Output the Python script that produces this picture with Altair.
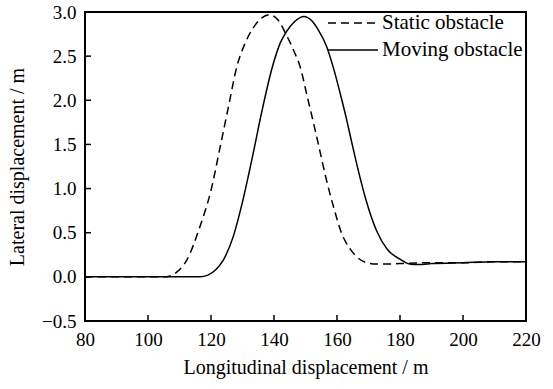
import altair as alt
import pandas as pd

# Trajectory data: longitudinal (m) vs lateral (m) displacement
static_x = [80, 105, 107, 109, 112.3, 116.5, 120, 122.9, 125.5, 128.2, 131, 133.4,
            136, 138.5, 141.5, 143.5, 146.3, 148.3, 150.5, 152.5, 154.1, 156.5, 159,
            161.5, 164.1, 166.5, 169.4, 172.5, 176, 180, 190, 200, 210, 220]
static_y = [0, 0, 0.01, 0.05, 0.19, 0.57, 0.98, 1.47, 1.92, 2.38, 2.66, 2.82,
            2.93, 2.97, 2.90, 2.77, 2.56, 2.38, 2.05, 1.75, 1.50, 1.12, 0.78,
            0.49, 0.32, 0.22, 0.16, 0.145, 0.145, 0.15, 0.16, 0.16, 0.17, 0.17]

moving_x = [80, 116.5, 119, 121.5, 123.9, 127, 130, 133.4, 136, 139.5, 142, 144,
            146.5, 149.5, 152, 154, 156.7, 159, 161, 163, 164.7, 167, 169.3, 172.6,
            176, 180, 182.5, 184.5, 187, 190, 200, 210, 220]
moving_y = [0, 0, 0.02, 0.08, 0.19, 0.45, 0.85, 1.40, 1.85, 2.38, 2.65, 2.78,
            2.89, 2.95, 2.90, 2.80, 2.61, 2.35, 2.08, 1.79, 1.52, 1.17, 0.86, 0.52,
            0.31, 0.20, 0.15, 0.14, 0.14, 0.15, 0.16, 0.17, 0.17]

x_ticks = [80, 100, 120, 140, 160, 180, 200, 220]
y_ticks = [-0.5, 0.0, 0.5, 1.0, 1.5, 2.0, 2.5, 3.0]
x_inner_ticks = [100, 120, 140, 160, 180, 200]
y_inner_ticks = [0.0, 0.5, 1.0, 1.5, 2.0, 2.5]

legend_labels = ["Static obstacle", "Moving obstacle"]

W, H = 441, 309
FONT = "Liberation Serif, Times New Roman, serif"

static_df = pd.DataFrame({"x": static_x, "y": static_y})
moving_df = pd.DataFrame({"x": moving_x, "y": moving_y})

x_scale = alt.Scale(domain=[80, 220], nice=False, zero=False)
y_scale = alt.Scale(domain=[-0.5, 3.0], nice=False, zero=False)

x_axis = alt.Axis(values=x_ticks, format=".0f", ticks=False, domain=False, grid=False,
                  labelPadding=9, titlePadding=8, labelFontSize=19, titleFontSize=20,
                  labelFont=FONT, titleFont=FONT, labelColor="black", titleColor="black",
                  titleFontWeight="normal", labelFlush=False)
y_axis = alt.Axis(values=y_ticks, format=".1f", ticks=False, domain=False, grid=False,
                  labelPadding=9, titlePadding=14, labelFontSize=19, titleFontSize=20,
                  labelFont=FONT, titleFont=FONT, labelColor="black", titleColor="black",
                  titleFontWeight="normal", labelFlush=False)

static_line = alt.Chart(static_df).mark_line(
    color="black", strokeWidth=1.5, strokeDash=[8, 5], interpolate="monotone"
).encode(
    x=alt.X("x:Q", scale=x_scale, axis=x_axis, title="Longitudinal displacement / m"),
    y=alt.Y("y:Q", scale=y_scale, axis=y_axis, title="Lateral displacement / m"),
)

moving_line = alt.Chart(moving_df).mark_line(
    color="black", strokeWidth=1.5, interpolate="monotone"
).encode(x=alt.X("x:Q", scale=x_scale), y=alt.Y("y:Q", scale=y_scale))

# Inward tick marks on the bottom and left frame edges
xt = alt.Chart(pd.DataFrame({"v": x_inner_ticks})).mark_rule(
    color="black", strokeWidth=1.5
).encode(x=alt.X("v:Q", scale=x_scale), y=alt.value(H), y2=alt.value(H - 6))

yt = alt.Chart(pd.DataFrame({"v": y_inner_ticks})).mark_rule(
    color="black", strokeWidth=1.5
).encode(y=alt.Y("v:Q", scale=y_scale), x=alt.value(0), x2=alt.value(6))

# Legend drawn inside the top-right of the plot
leg_static = alt.Chart(pd.DataFrame({"a": [0]})).mark_rule(
    color="black", strokeWidth=1.5, strokeDash=[8, 5]
).encode(x=alt.value(243), x2=alt.value(293), y=alt.value(11))
leg_moving = alt.Chart(pd.DataFrame({"a": [0]})).mark_rule(
    color="black", strokeWidth=1.5
).encode(x=alt.value(243), x2=alt.value(293), y=alt.value(38))
leg_text = alt.Chart(pd.DataFrame({"label": legend_labels, "yy": [11, 38]})).mark_text(
    font=FONT, fontSize=21, align="left", baseline="middle", color="black"
).encode(x=alt.value(297), y=alt.Y("yy:Q", scale=None), text="label:N")

chart = alt.layer(
    static_line, moving_line, xt, yt, leg_static, leg_moving, leg_text
).properties(
    width=W, height=H,
    autosize=alt.AutoSizeParams(type="none"),
    padding={"left": 85, "top": 12, "right": 27, "bottom": 68},
    background="white",
).configure_view(stroke="black", strokeWidth=2)

chart.save("out.html", embed_options={"renderer": "svg", "actions": False})
